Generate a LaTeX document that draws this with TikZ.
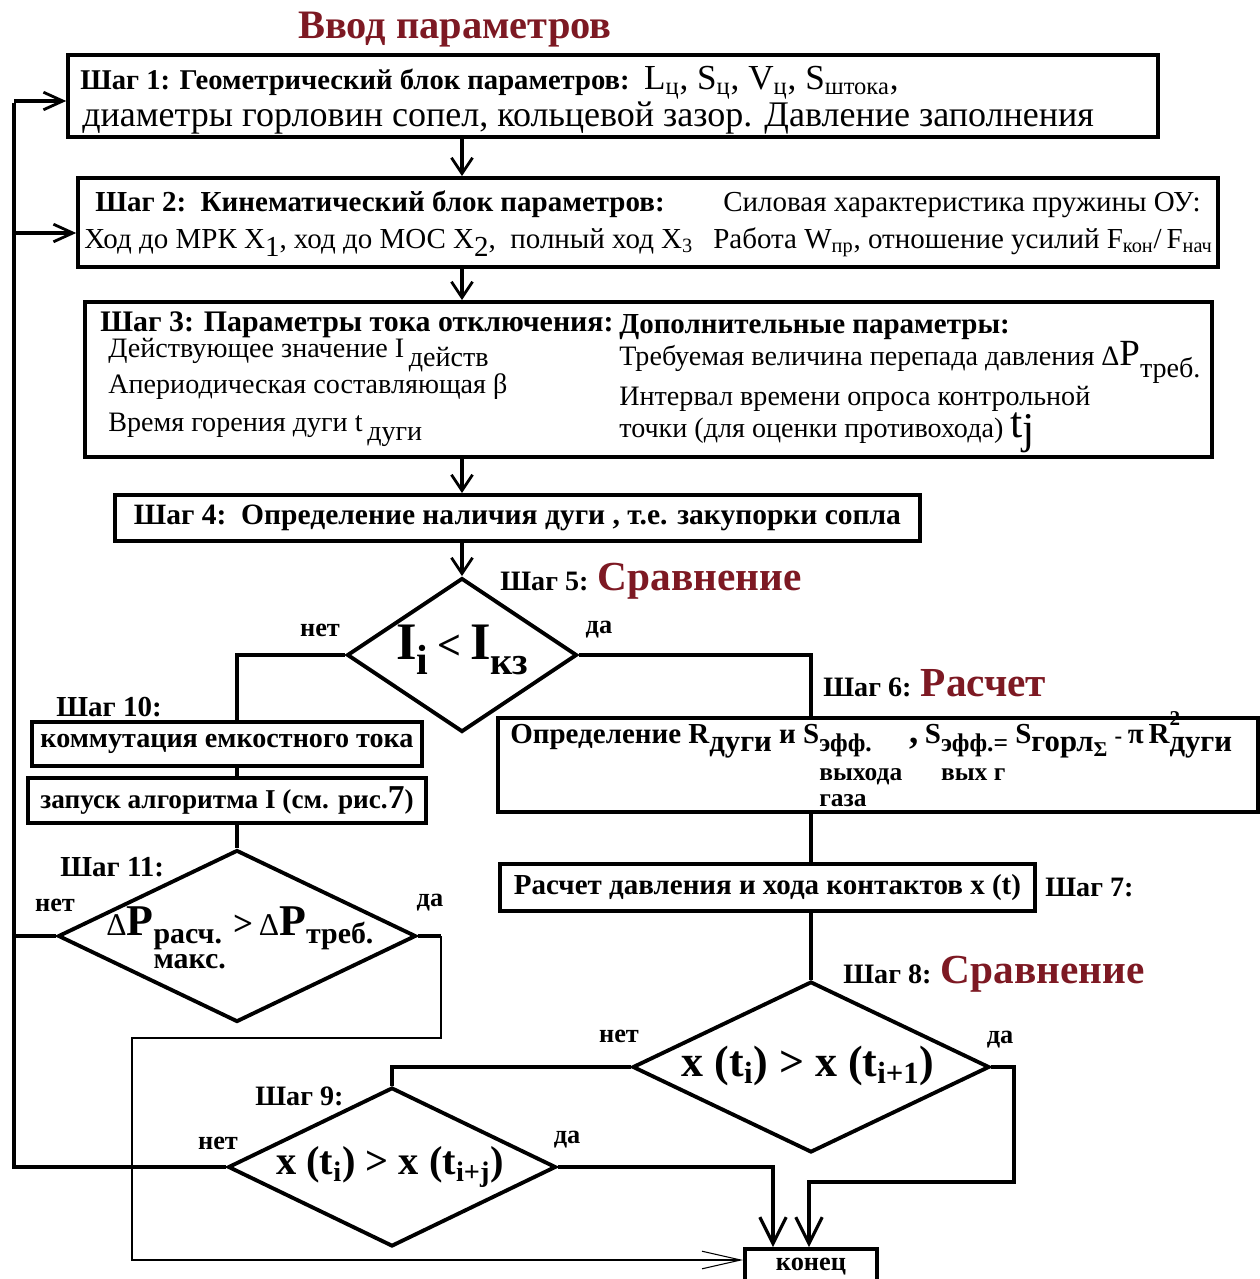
\documentclass[tikz,border=0pt]{standalone}
\usepackage{fontspec}
\setmainfont{Liberation Serif}
\usetikzlibrary{arrows.meta,positioning,calc,shapes.geometric}
\definecolor{titlered}{RGB}{125,25,35}
\newcommand{\sz}[1]{\fontsize{#1}{#1}\selectfont}
\newcommand{\dn}[2][0.3em]{\raisebox{-#1}{#2}}
\newcommand{\stk}[3][13]{\raisebox{-#2}{\sz{#1}\begin{tabular}[t]{@{}l@{}}#3\end{tabular}}}

\begin{document}
\begin{tikzpicture}[x=0.02cm,y=-0.02cm,line join=miter]
  \tikzstyle{blk}=[draw,line width=2.2pt,inner sep=0pt]
  \tikzstyle{dmd}=[draw,diamond,line width=2.2pt,inner sep=0pt]
  \tikzstyle{txt}=[inner sep=0pt,anchor=base west]
  \tikzstyle{yesno}=[inner sep=0pt,font=\bfseries\sz{15}]
  \tikzstyle{wire}=[line width=2.2pt]
  \tikzstyle{flow}=[wire,-{Straight Barb[length=9pt,width=12pt,line width=1.6pt]}]
  \tikzstyle{sidearr}=[wire,-{Straight Barb[length=11pt,width=10pt,line width=1.6pt]}]
  \tikzstyle{bigarr}=[wire,-{Straight Barb[length=15pt,width=15pt,line width=1.8pt]}]
  \tikzstyle{thinarr}=[line width=0.8pt,-{Straight Barb[length=22pt,width=10pt,line width=0.6pt]}]
  \useasboundingbox (0,0) rectangle (1260,1279);

  \node[font=\bfseries\sz{23},text=titlered] (title) at (455,30) {Ввод параметров};

  % step 1
  \node[blk,minimum width=21.8cm,minimum height=1.64cm] (step1) at (613,96) {};
  \node[txt] (step1a) at (80,89) {\bfseries\sz{16.3}Шаг 1: Геометрический блок параметров:\ \ \mdseries\sz{20}L\textsubscript{ц}, S\textsubscript{ц}, V\textsubscript{ц}, S\textsubscript{штока},};
  \node[txt] (step1b) at (82,126) {\sz{20.5}диаметры горловин сопел,\ кольцевой зазор. Давление заполнения};

  % step 2
  \node[blk,minimum width=22.8cm,minimum height=1.78cm] (step2) at (648,222.5) {};
  \node[txt] (step2a) at (95,211) {\bfseries\sz{16.5}Шаг 2:\ \ Кинематический блок параметров:};
  \node[txt] (step2b) at (723,211) {\sz{16.5}Силовая характеристика пружины ОУ:};
  \node[txt] (step2c) at (84,248) {\sz{16.5}Ход до МРК X\dn{1}, ход до МОС X\dn{2},\ \ полный ход X\textsubscript{3}};
  \node[txt] (step2d) at (713,248) {\sz{16.5}Работа W\textsubscript{пр}, отношение усилий F\textsubscript{кон}/\,F\textsubscript{нач}};

  % step 3
  \node[blk,minimum width=22.54cm,minimum height=3.1cm] (step3) at (648.5,379.5) {};
  \node[txt] (step3a) at (100,331) {\bfseries\sz{17}Шаг 3: Параметры тока отключения:};
  \node[txt] (step3b) at (108,357) {\sz{16}Действующее значение I\,\dn[0.35em]{действ}};
  \node[txt] (step3c) at (108,393) {\sz{16}Апериодическая составляющая β};
  \node[txt] (step3d) at (108,431) {\sz{16}Время горения дуги t\,\dn[0.35em]{дуги}};
  \node[txt] (step3e) at (619,333) {\bfseries\sz{16.5}Дополнительные параметры:};
  \node[txt] (step3f) at (619,365) {\sz{16}Требуемая величина перепада давления Δ\sz{21}P\dn[0.35em]{\sz{16}треб.}};
  \node[txt] (step3g) at (619,405) {\sz{16}Интервал времени опроса контрольной};
  \node[txt] (step3h) at (619,437) {\sz{16}точки (для оценки противохода) \sz{25}t\dn[0.15em]{j}};

  % step 4
  \node[blk,minimum width=16.1cm,minimum height=0.92cm,font=\bfseries\sz{16.8}] (step4) at (517.5,518) {Шаг 4:\ \ Определение наличия дуги , т.е. закупорки сопла};

  % step 5
  \node[dmd,minimum width=4.6cm,minimum height=3.08cm] (cmp5) at (462,655) {};
  \node[font=\bfseries] (cmp5t) at (462,650) {\sz{30}I\dn[0.3em]{\sz{24}i}\,{\sz{24}<}\,I\dn[0.3em]{\sz{22}кз}};
  \node[txt] (lbl5) at (500,590) {\bfseries\sz{16}Шаг 5: \textcolor{titlered}{\sz{23.5}Сравнение}};
  \node[yesno] (no5) at (320,630) {нет};
  \node[yesno] (yes5) at (599,630) {да};

  % step 6, 7
  \node[txt] (lbl6) at (823,696) {\bfseries\sz{16}Шаг 6: \textcolor{titlered}{\sz{23.5}Расчет}};
  \node[blk,minimum width=15.2cm,minimum height=1.88cm] (step6) at (878,765) {};
  \node[txt] (step6t) at (510,743) {\bfseries\sz{16.5}Определение R\dn{\sz{17.5}дуги} и S\stk[14.5]{0.3em}{эфф.\\[2pt]выхода\\газа}\ \sz{21},\,\sz{16.5}S\stk[14.5]{0.3em}{эфф.=\\[2pt]вых г}\ S\dn{\sz{17.5}горл}\dn[0.45em]{\sz{12}Σ}\ \sz{13}-\ \sz{16.5}π\,R\rlap{\raisebox{0.6em}{\sz{12}2}}\dn{\sz{17.5}дуги}};
  \node[blk,minimum width=10.7cm,minimum height=0.94cm,font=\bfseries\sz{16.5}] (step7) at (767.5,887.5) {Расчет давления и хода контактов x (t)};
  \node[txt] (lbl7) at (1045,896) {\bfseries\sz{16}Шаг 7:};

  % step 8
  \node[dmd,minimum width=7.14cm,minimum height=3.42cm] (cmp8) at (811,1067) {};
  \node[font=\bfseries\sz{25}] (cmp8t) at (808,1066) {x (t\textsubscript{i}) > x (t\textsubscript{i+1})};
  \node[txt] (lbl8) at (843,983) {\bfseries\sz{16}Шаг 8: \textcolor{titlered}{\sz{23.5}Сравнение}};
  \node[yesno] (no8) at (619,1036) {нет};
  \node[yesno] (yes8) at (1000,1040) {да};

  % step 9
  \node[dmd,minimum width=6.56cm,minimum height=3.18cm] (cmp9) at (392,1167) {};
  \node[font=\bfseries\sz{23}] (cmp9t) at (390,1167) {x (t\textsubscript{i}) > x (t\textsubscript{i+j})};
  \node[txt] (lbl9) at (255,1105) {\bfseries\sz{16}Шаг 9:};
  \node[yesno] (no9) at (218,1143) {нет};
  \node[yesno] (yes9) at (567,1140) {да};

  % step 10, 11
  \node[txt] (lbl10) at (56,716) {\bfseries\sz{16.5}Шаг 10:};
  \node[blk,minimum width=7.8cm,minimum height=0.88cm,font=\bfseries\sz{16}] (comm10) at (227,744) {коммутация емкостного тока};
  \node[blk,minimum width=7.96cm,minimum height=0.9cm,font=\bfseries\sz{15.5}] (run10) at (227,800.5) {запуск алгоритма I (см. рис.{\sz{19}7})};
  \node[dmd,minimum width=7.16cm,minimum height=3.44cm] (cmp11) at (237,936) {};
  \node[txt] (cmp11t) at (106,935) {\bfseries{\mdseries\sz{18}Δ}\sz{25}P\stk[17]{0.2em}{расч.\\[-3pt]макс.}\,\sz{20}>\,{\mdseries\sz{18}Δ}\sz{25}P\dn[0.2em]{\sz{17}треб.}};
  \node[txt] (lbl11) at (60,876) {\bfseries\sz{16.5}Шаг 11:};
  \node[yesno] (no11) at (55,905) {нет};
  \node[yesno] (yes11) at (430,903) {да};

  \node[blk,minimum width=2.64cm,minimum height=0.72cm,font=\bfseries\sz{15}] (konec) at (811,1267) {конец};

  % main flow
  \draw[flow] (step1.south -| cmp5) -- (step2.north -| cmp5);
  \draw[flow] (step2.south -| cmp5) -- (step3.north -| cmp5);
  \draw[flow] (step3.south -| cmp5) -- (step4.north -| cmp5);
  \draw[flow] (step4.south -| cmp5) -- (cmp5.north);

  % right branch
  \draw[wire] (cmp5.east) -| (step6.north -| cmp8);
  \draw[wire] (step6.south -| cmp8) -- (step7.north -| cmp8);
  \draw[wire] (step7.south -| cmp8) -- (cmp8.north);
  \draw[wire] (cmp8.west) -| (cmp9.north);
  \coordinate (jn8) at (1014,1182);
  \draw[bigarr] (cmp8.east) -| (jn8) -| ([xshift=-0.04cm]konec.north);
  \draw[bigarr] (cmp9.east) -| ([xshift=-0.76cm]konec.north);

  % left branch
  \draw[wire] (cmp5.west) -| (comm10.north -| cmp11);
  \draw[wire] (comm10.south -| cmp11) -- (run10.north -| cmp11);
  \draw[wire] (run10.south -| cmp11) -- (cmp11.north);

  % return loop
  \coordinate (loopb) at (14,1167);
  \coordinate (loopt) at (14,101);
  \coordinate (loopm) at (14,233);
  \draw[wire] (cmp9.west) -- (loopb) -- ([yshift=-1.1pt]loopt);
  \draw[sidearr] (loopt) -- (loopt -| step1.west);
  \draw[sidearr] (loopm) -- (loopm -| step2.west);
  \draw[wire] (cmp11.west) -- (cmp11.west -| loopb);

  % bypass to the end
  \draw[wire] (cmp11.east) -- ++(23,0) coordinate (stub);
  \coordinate (byp) at (132,1038);
  \coordinate (byp2) at (132,1260);
  \draw[thinarr] (stub) -- (stub |- byp) -| (byp2) -- (konec.west |- byp2);
\end{tikzpicture}
\end{document}
